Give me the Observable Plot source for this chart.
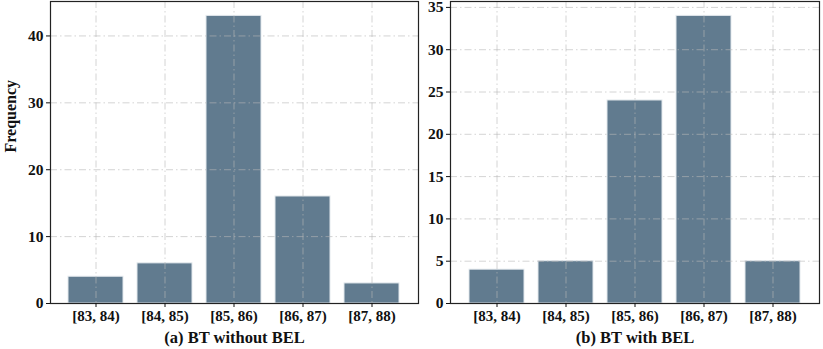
<!DOCTYPE html>
<html>
<head>
<meta charset="utf-8">
<script src="https://cdn.jsdelivr.net/npm/d3@7"></script>
<script src="https://cdn.jsdelivr.net/npm/@observablehq/plot@0.6"></script>
<style>
  html, body { margin: 0; padding: 0; background: #fff; }
  #wrap { display: flex; flex-direction: row; width: 823px; height: 349px; }
</style>
</head>
<body>
<div id="wrap"></div>
<script>
const bins = ["[83, 84)", "[84, 85)", "[85, 86)", "[86, 87)", "[87, 88)"];
const withoutBEL = [4, 6, 43, 16, 3];
const withBEL = [4, 5, 24, 34, 5];
const ticksA = [0, 10, 20, 30, 40];
const ticksB = [0, 5, 10, 15, 20, 25, 30, 35];
const titleA = "(a) BT without BEL";
const titleB = "(b) BT with BEL";
const yLabel = "Frequency";

const barColor = "#617b8f";
const font = "'Liberation Serif', 'Times New Roman', serif";

function panel({values, ticks, yMax, title, width, marginLeft, marginRight, showYLabel}) {
  const data = bins.map((b, i) => ({bin: b, count: values[i]}));
  const marks = [
    Plot.barY(data, {x: "bin", y: "count", fill: barColor, stroke: "#e3e9ed", strokeWidth: 1}),
    Plot.gridY(ticks, {stroke: "#b8b8b8", strokeOpacity: 0.6, strokeDasharray: "7,3,1.5,3", strokeWidth: 1}),
    Plot.gridX(bins, {stroke: "#b8b8b8", strokeOpacity: 0.6, strokeDasharray: "7,3,1.5,3", strokeWidth: 1}),
    Plot.frame({stroke: "#222", strokeWidth: 1.2}),
    Plot.axisY({ticks, tickSize: 4, tickPadding: 3, fontSize: 15.5}),
    Plot.axisX({tickSize: 4, tickPadding: 3, fontSize: 15, label: null})
  ];
  if (showYLabel) {
    marks.push(Plot.text([yLabel], {frameAnchor: "left", dx: -40, rotate: -90, text: d => d,
      fontSize: 16, fontWeight: "bold"}));
  }
  marks.push(Plot.text([title], {frameAnchor: "bottom", dy: 34, lineAnchor: "middle", text: d => d,
    fontSize: 16.5, fontWeight: "bold"}));
  return Plot.plot({
    width, height: 349,
    marginLeft, marginRight, marginTop: 1, marginBottom: 46,
    style: {fontFamily: font, fontWeight: "bold", fontSize: "15px", color: "#111", background: "#fff", overflow: "visible"},
    x: {domain: bins, paddingInner: 0.2, paddingOuter: 0.24, label: null},
    y: {domain: [0, yMax], label: null},
    marks
  });
}

const wrap = document.getElementById("wrap");
wrap.appendChild(panel({values: withoutBEL, ticks: ticksA, yMax: 45.15, title: titleA,
  width: 420, marginLeft: 50, marginRight: 2, showYLabel: true}));
wrap.appendChild(panel({values: withBEL, ticks: ticksB, yMax: 35.7, title: titleB,
  width: 403, marginLeft: 30, marginRight: 4, showYLabel: false}));
</script>
</body>
</html>
